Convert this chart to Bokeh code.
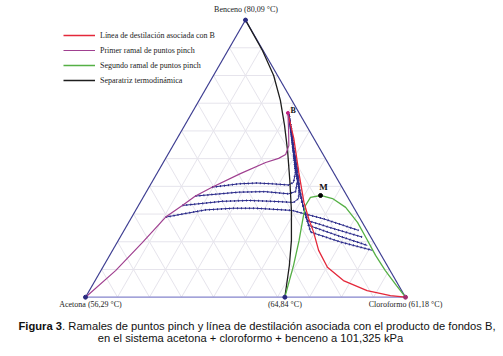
import numpy as np
from bokeh.plotting import figure
from bokeh.models import Label, Legend, LegendItem
from bokeh.embed import file_html
from bokeh.resources import INLINE

# ---------------- data: compositions (x_cloroformo, x_benceno) ----------------
# Separatriz termodinámica
sep_xc = [0.000, 0.108, 0.188, 0.254, 0.312, 0.367, 0.428, 0.487, 0.541, 0.580, 0.603, 0.623]
sep_xb = [1.000, 0.890, 0.800, 0.710, 0.620, 0.529, 0.421, 0.313, 0.205, 0.114, 0.053, 0.000]

# Línea de destilación asociada con B
dist_xc = [0.300, 0.365, 0.441, 0.511, 0.556, 0.596, 0.644, 0.702, 0.776, 0.868, 0.950, 1.000]
dist_xb = [0.665, 0.572, 0.451, 0.343, 0.283, 0.234, 0.169, 0.108, 0.060, 0.024, 0.006, 0.000]

# Primer ramal de puntos pinch
p1_xc = [0.000, 0.046, 0.079, 0.106, 0.137, 0.161, 0.197, 0.261, 0.320, 0.353, 0.368, 0.362, 0.330, 0.300]
p1_xb = [0.000, 0.096, 0.197, 0.289, 0.331, 0.365, 0.397, 0.446, 0.486, 0.501, 0.515, 0.547, 0.609, 0.665]

# Segundo ramal de puntos pinch
p2_xc = [0.623, 0.608, 0.593, 0.565, 0.540, 0.522, 0.523, 0.551, 0.594, 0.651, 0.715, 0.772, 0.831, 0.889, 0.951, 1.000]
p2_xb = [0.000, 0.057, 0.114, 0.205, 0.277, 0.331, 0.360, 0.367, 0.356, 0.324, 0.270, 0.212, 0.151, 0.096, 0.042, 0.000]

# pinch-point curves (dotted navy)
c1_xc = [0.197, 0.274, 0.330, 0.380, 0.432, 0.443, 0.431, 0.385, 0.341, 0.306]
c1_xb = [0.397, 0.409, 0.412, 0.409, 0.405, 0.414, 0.450, 0.529, 0.602, 0.659]
c2_xc = [0.161, 0.289, 0.370, 0.448, 0.466, 0.452, 0.422, 0.385, 0.341, 0.306]
c2_xb = [0.365, 0.379, 0.381, 0.373, 0.381, 0.421, 0.475, 0.529, 0.602, 0.659]
c3_xc = [0.137, 0.255, 0.335, 0.411, 0.479, 0.488, 0.467, 0.430, 0.388, 0.343, 0.311]
c3_xb = [0.331, 0.346, 0.349, 0.346, 0.342, 0.356, 0.403, 0.464, 0.529, 0.602, 0.652]
c4_xc = [0.106, 0.217, 0.300, 0.371, 0.490, 0.530, 0.602, 0.677, 0.733]
c4_xb = [0.289, 0.315, 0.321, 0.321, 0.313, 0.302, 0.283, 0.259, 0.241]
bund_xc = [0.306, 0.341, 0.385, 0.429, 0.464, 0.494, 0.519]
bund_xb = [0.659, 0.602, 0.529, 0.457, 0.403, 0.360, 0.324]
r2_xc = [0.554, 0.653, 0.756]
r2_xb = [0.277, 0.247, 0.217]
r3_xc = [0.528, 0.568, 0.675, 0.787]
r3_xb = [0.313, 0.259, 0.223, 0.187]
r4_xc = [0.536, 0.586, 0.698, 0.812]
r4_xb = [0.302, 0.235, 0.199, 0.169]

# special points
B_pt = (0.300, 0.665)
M_pt = (0.551, 0.367)
azeo_xc = 0.623

grid_levels = [0.1, 0.2, 0.3, 0.4, 0.5, 0.6, 0.7, 0.8, 0.9]

legend_labels = ["Línea de destilación asociada con B", "Primer ramal de puntos pinch",
                 "Segundo ramal de puntos pinch", "Separatriz termodinámica"]
vertex_labels = ["Acetona (56,29 °C)", "Cloroformo (61,18 °C)", "Benceno (80,09 °C)", "(64,84 °C)"]

S3 = np.sqrt(3) / 2


def tern(xc, xb):
    xc = np.asarray(xc, dtype=float)
    xb = np.asarray(xb, dtype=float)
    return xc + 0.5 * xb, S3 * xb


p = figure(width=503, height=356, x_range=(-0.265625, 1.30625), y_range=(-0.18531, 0.92719),
           output_backend="svg", toolbar_location=None, min_border=0,
           x_axis_type=None, y_axis_type=None, outline_line_color=None)
p.background_fill_color = "white"
p.border_fill_color = "white"

# triangular grid
gx, gy = [], []
for t in grid_levels:
    for (a, b) in [((0, t), (1 - t, t)), ((t, 0), (t, 1 - t)), ((1 - t, 0), (0, 1 - t))]:
        x, y = tern([a[0], b[0]], [a[1], b[1]])
        gx.append(list(x)); gy.append(list(y))
p.multi_line(gx, gy, line_color="#e6e4ec", line_width=1)

# triangle edges
ex, ey = tern([0, 0], [0, 1])
p.line(ex, ey, line_color="#3c3c90", line_width=1.2)
ex, ey = tern([1, 0], [0, 1])
p.line(ex, ey, line_color="#3c3c90", line_width=1.2)
ex, ey = tern([0, 1], [0, 0])
p.line(ex, ey, line_color="#8484cc", line_width=1.2)

navy = "#2a2a8a"
# dotted pinch curves
curves = [(c1_xc, c1_xb), (c2_xc, c2_xb), (c3_xc, c3_xb), (c4_xc, c4_xb),
          (bund_xc + r2_xc, bund_xb + r2_xb), (bund_xc + r3_xc, bund_xb + r3_xb),
          (bund_xc + r4_xc, bund_xb + r4_xb)]
for xc, xb in curves:
    x, y = tern(xc, xb)
    p.line(x, y, line_color=navy, line_width=1.0)
    p.line(x, y, line_color=navy, line_width=2.0, line_dash="1 3")

# main curves
x, y = tern(sep_xc, sep_xb)
r_sep = p.line(x, y, line_color="#1e1e1e", line_width=1.3)
x, y = tern(p2_xc, p2_xb)
r_p2 = p.line(x, y, line_color="#55b045", line_width=1.3)
x, y = tern(dist_xc, dist_xb)
r_dist = p.line(x, y, line_color="#e4283a", line_width=1.3)
x, y = tern(p1_xc, p1_xb)
r_p1 = p.line(x, y, line_color="#a04090", line_width=1.2)

# vertex points
vx, vy = tern([0, 0, azeo_xc], [0, 1, 0])
p.scatter(vx, vy, size=4, color="#2a2a80")
vx, vy = tern([1], [0])
p.scatter(vx, vy, size=4, color="#a03070")
bx, by = tern([B_pt[0]], [B_pt[1]])
p.scatter(bx, by, size=3, color="#c02080")
mx, my = tern([M_pt[0]], [M_pt[1]])
p.scatter(mx, my, size=4, color="black")

serif = "Liberation Serif"
lab_kw = dict(text_font=serif, text_font_size="8px", text_color="#222222",
              text_align="center", text_baseline="middle")
x, y = tern([0], [0])
p.add_layout(Label(x=x[0], y=y[0], x_offset=5, y_offset=-7.5, text=vertex_labels[0], **lab_kw))
x, y = tern([1], [0])
p.add_layout(Label(x=x[0], y=y[0], x_offset=0, y_offset=-7.5, text=vertex_labels[1], **lab_kw))
x, y = tern([0], [1])
p.add_layout(Label(x=x[0], y=y[0], x_offset=0.5, y_offset=10.5, text=vertex_labels[2], **lab_kw))
x, y = tern([azeo_xc], [0])
p.add_layout(Label(x=x[0], y=y[0], x_offset=0, y_offset=-7.5, text=vertex_labels[3], **lab_kw))
p.add_layout(Label(x=bx[0], y=by[0], x_offset=2.5, y_offset=2, text="B", text_font=serif,
                   text_font_size="8px", text_font_style="bold", text_align="left",
                   text_baseline="middle", text_color="#111111"))
p.add_layout(Label(x=mx[0], y=my[0], x_offset=3, y_offset=8, text="M", text_font=serif,
                   text_font_size="9px", text_font_style="bold", text_align="center",
                   text_baseline="middle", text_color="#111111"))

legend = Legend(items=[LegendItem(label=legend_labels[0], renderers=[r_dist]),
                       LegendItem(label=legend_labels[1], renderers=[r_p1]),
                       LegendItem(label=legend_labels[2], renderers=[r_p2]),
                       LegendItem(label=legend_labels[3], renderers=[r_sep])],
                location=(63, 271), glyph_width=32, glyph_height=10, label_height=10,
                label_standoff=5, spacing=5, padding=0, margin=0,
                border_line_color=None, background_fill_alpha=0,
                label_text_font=serif, label_text_font_size="8px", label_text_color="#222222")
p.add_layout(legend, "center")

# caption
cap_kw = dict(x_units="screen", y_units="screen", text_font="Liberation Sans",
              text_font_size="11.2px", text_color="#111111", text_baseline="middle")
p.add_layout(Label(x=18, y=31, text="Figura 3", text_font_style="bold", text_align="left", **cap_kw))
p.add_layout(Label(x=61.6, y=31, text=". Ramales de puntos pinch y línea de destilación asociada con el producto de fondos B,",
                   text_align="left", **cap_kw))
p.add_layout(Label(x=250, y=19, text="en el sistema acetona + cloroformo + benceno a 101,325 kPa",
                   text_align="center", **cap_kw))

open("out.html", "w").write(file_html(p, INLINE))
